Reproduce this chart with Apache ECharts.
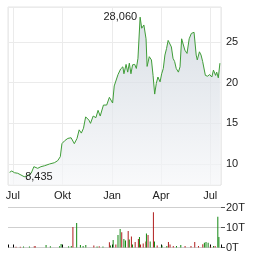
<!DOCTYPE html>
<html>
<head>
<meta charset="utf-8">
<script src="https://cdn.jsdelivr.net/npm/echarts@6/dist/echarts.min.js"></script>
<style>
  html, body { margin: 0; padding: 0; background: #fff; }
  #chart { width: 264px; height: 255px; }
</style>
</head>
<body>
<div id="chart"></div>
<script>
// Kursverlauf (Schlusskurse)
var priceDates = ['2023-06-25','2023-06-29','2023-07-04','2023-07-10','2023-07-16','2023-07-22','2023-07-28','2023-08-04','2023-08-09','2023-08-16',
  '2023-08-22','2023-08-29','2023-09-07','2023-09-16','2023-09-22','2023-09-27','2023-09-30','2023-10-05','2023-10-11','2023-10-17',
  '2023-10-23','2023-10-28','2023-11-01','2023-11-05','2023-11-09','2023-11-13','2023-11-19','2023-11-22','2023-11-27','2023-12-02',
  '2023-12-06','2023-12-10','2023-12-16','2023-12-22','2023-12-27','2024-01-02','2024-01-05','2024-01-12','2024-01-17','2024-01-21',
  '2024-01-23','2024-01-27','2024-01-30','2024-02-02','2024-02-05','2024-02-08','2024-02-12','2024-02-15','2024-02-18','2024-02-22',
  '2024-02-25','2024-02-29','2024-03-04','2024-03-06','2024-03-10','2024-03-14','2024-03-17','2024-03-20','2024-03-23','2024-03-26',
  '2024-03-30','2024-04-02','2024-04-05','2024-04-08','2024-04-11','2024-04-14','2024-04-17','2024-04-20','2024-04-23','2024-04-26',
  '2024-04-29','2024-05-03','2024-05-06','2024-05-09','2024-05-12','2024-05-15','2024-05-19','2024-05-23','2024-05-27','2024-06-01',
  '2024-06-05','2024-06-07','2024-06-11','2024-06-14','2024-06-17','2024-06-22','2024-06-26','2024-06-30','2024-07-04','2024-07-07',
  '2024-07-11','2024-07-13','2024-07-16','2024-07-19'];
var prices = [8.98, 9.14, 8.93, 8.86, 8.65, 8.435, 8.56, 8.86, 9.67, 9.47,
  9.67, 9.79, 10.0, 10.16, 10.4, 10.9, 12.5, 12.86, 13.15, 13.23,
  12.5, 13.15, 14.2, 13.8, 14.4, 15.8, 15.4, 15.0, 15.9, 15.7,
  16.6, 15.9, 17.25, 17.25, 18.2, 17.5, 19.6, 21.0, 21.7, 21.95,
  21.1, 22.25, 21.3, 22.4, 21.1, 22.2, 22.25, 21.75, 23.0, 28.06,
  26.7, 27.1, 25.4, 22.0, 23.2, 22.8, 20.9, 18.6, 19.9, 20.7,
  20.1, 21.1, 21.75, 23.4, 24.2, 25.2, 25.0, 24.4, 23.0, 22.6,
  21.75, 21.3, 21.95, 25.4, 25.6, 24.0, 23.6, 25.4, 26.06, 26.2,
  23.4, 22.8, 23.8, 23.4, 22.6, 20.9, 20.8, 21.0, 20.7, 21.55,
  20.9, 21.3, 20.6, 22.4];

// Umsatz (Stück), Richtung: 1 = steigend (grün), 0 = fallend (rot)
var volDates = ['2023-07-06','2023-07-14','2023-07-20','2023-07-31','2023-08-09','2023-08-11','2023-08-31','2023-09-08','2023-09-25','2023-09-28',
  '2023-10-12','2023-10-17','2023-10-20','2023-10-27','2023-11-03','2023-11-08','2023-11-13','2023-11-28','2023-12-04','2023-12-08',
  '2023-12-15','2023-12-27','2023-12-29','2024-01-03','2024-01-08','2024-01-12','2024-01-16','2024-01-19','2024-01-23','2024-01-26',
  '2024-01-31','2024-02-02','2024-02-06','2024-02-08','2024-02-13','2024-02-19','2024-02-21','2024-02-23','2024-02-28','2024-03-04',
  '2024-03-05','2024-03-08','2024-03-12','2024-03-18','2024-03-20','2024-03-25','2024-04-03','2024-04-12','2024-04-15','2024-04-18',
  '2024-04-24','2024-04-30','2024-05-08','2024-05-16','2024-05-27','2024-06-03','2024-06-10','2024-06-18','2024-06-21','2024-06-24',
  '2024-06-28','2024-07-02','2024-07-08','2024-07-11','2024-07-16','2024-07-18'];
var volValues = [400, 400, 500, 500, 600, 600, 1200, 600, 600, 1800,
  600, 800, 10200, 12300, 1200, 800, 1200, 1000, 500, 600,
  500, 2600, 1000, 3700, 1500, 6200, 9200, 7600, 4200, 3500,
  8200, 4000, 5500, 1500, 2700, 4300, 5200, 1500, 2000, 3000,
  7000, 6200, 3000, 17600, 3000, 1000, 1000, 800, 2700, 1500,
  800, 800, 1200, 800, 800, 2700, 800, 1600, 2400, 2700,
  2400, 500, 800, 800, 15400, 5200];
var volUp = [0, 0, 1, 1, 0, 0, 1, 1, 1, 1,
  1, 1, 0, 1, 1, 1, 1, 0, 1, 0,
  1, 0, 1, 1, 0, 1, 1, 0, 1, 1,
  0, 1, 0, 1, 0, 0, 1, 0, 0, 0,
  1, 0, 1, 0, 1, 0, 1, 1, 0, 0,
  0, 1, 1, 0, 0, 0, 0, 0, 1, 1,
  1, 0, 1, 0, 1, 1];

var monate = ['Jan','Feb','Mär','Apr','Mai','Jun','Jul','Aug','Sep','Okt','Nov','Dez'];
var xMin = '2023-06-22';
var xMax = '2024-07-21';

var lblFont = { color: '#222', fontSize: 11, fontWeight: 'normal', fontFamily: 'Liberation Sans, Arial, sans-serif' };

var chart = echarts.init(document.getElementById('chart'));

var option = {
  animation: false,
  backgroundColor: '#fff',
  grid: [
    { left: 8, right: 43, top: 7, height: 178, show: true, borderColor: '#e4e4e4', borderWidth: 1, outerBoundsMode: 'none' },
    { left: 8, right: 43, top: 207.5, height: 40, outerBoundsMode: 'none' }
  ],
  xAxis: [
    {
      type: 'time', gridIndex: 0, min: xMin, max: xMax, splitNumber: 4,
      axisLine: { show: false },
      axisTick: { show: false },
      splitLine: { show: true, lineStyle: { color: '#ebebeb', width: 1 } },
      axisLabel: Object.assign({ margin: 5, hideOverlap: false,
        rich: { primary: { fontWeight: 'normal' } },
        formatter: function (v) { return monate[new Date(v).getMonth()]; } }, lblFont)
    },
    {
      type: 'time', gridIndex: 1, min: xMin, max: xMax, splitNumber: 4, position: 'top',
      axisLine: { show: false },
      axisTick: { show: true, length: 3, lineStyle: { color: '#000', width: 1 } },
      splitLine: { show: false },
      axisLabel: { show: false }
    }
  ],
  yAxis: [
    {
      type: 'value', gridIndex: 0, position: 'right', min: 7.418, max: 29.31, splitNumber: 5,
      axisLine: { show: false },
      axisTick: { show: false },
      splitLine: { show: true, lineStyle: { color: '#ebebeb', width: 1 } },
      axisLabel: Object.assign({ margin: 5, showMinLabel: false, showMaxLabel: false }, lblFont)
    },
    {
      type: 'value', gridIndex: 1, position: 'right', min: 0, max: 20000, interval: 10000,
      axisLine: { show: false },
      axisTick: { show: true, length: 4, lineStyle: { color: '#555' } },
      splitLine: { show: true, lineStyle: { color: '#cfcfcf', width: 1 } },
      axisLabel: Object.assign({ margin: 5,
        formatter: function (v) { return (v / 1000) + 'T'; } }, lblFont)
    }
  ],
  series: [
    {
      type: 'line', xAxisIndex: 0, yAxisIndex: 0,
      data: priceDates.map(function (d, i) { return [d, prices[i]]; }),
      symbol: 'none',
      lineStyle: { color: '#3f9d38', width: 1 },
      areaStyle: {
        color: new echarts.graphic.LinearGradient(0, 0, 0, 1, [
          { offset: 0, color: '#cad2db' },
          { offset: 1, color: '#f6f7f9' }
        ])
      },
      markPoint: {
        symbol: 'circle', symbolSize: 0,
        label: Object.assign({ show: true,
          formatter: function (p) { return p.value.toFixed(3).replace('.', ','); } }, lblFont),
        data: [
          { type: 'max', label: { position: 'left', distance: 3 } },
          { type: 'min', label: { position: 'right', distance: 1 } }
        ]
      }
    },
    {
      type: 'bar', xAxisIndex: 1, yAxisIndex: 1, barWidth: 1,
      data: volDates.map(function (d, i) {
        return { value: [d, volValues[i]], itemStyle: { color: volUp[i] ? '#118811' : '#b01e1e' } };
      })
    }
  ]
};

chart.setOption(option);
</script>
</body>
</html>
